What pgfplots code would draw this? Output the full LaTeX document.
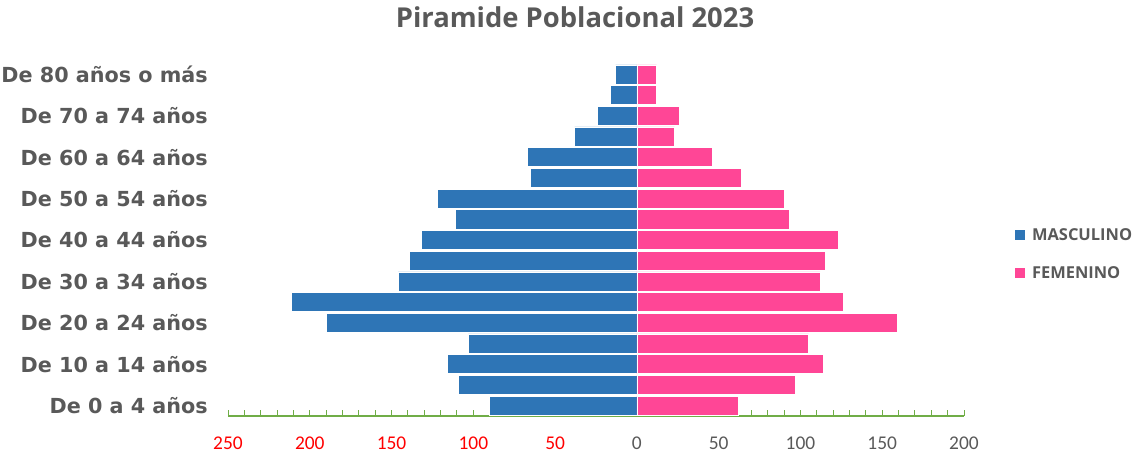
\documentclass[border=0pt]{standalone}
\usepackage{pgfplots}
\pgfplotsset{compat=1.18}
\usepackage{pgfplotstable}
\usepackage{fontspec}
\setmainfont{Carlito}
\newfontfamily\dejavu{DejaVu Sans}
\newfontfamily\opensans{Open Sans}
\definecolor{masc}{HTML}{2E75B6}
\definecolor{fem}{HTML}{FF4696}
\definecolor{txtgray}{HTML}{595959}
\definecolor{axgreen}{HTML}{70AD47}

\pgfplotstableread{
idx masc fem
0  -90  62
1  -109 97
2  -116 114
3  -103 105
4  -190 159
5  -211 126
6  -146 112
7  -139 115
8  -132 123
9  -111 93
10 -122 90
11 -65  64
12 -67  46
13 -38  23
14 -24  26
15 -16  12
16 -13  12
}\datatable

\begin{document}
\begin{tikzpicture}[x=1bp,y=1bp]
\useasboundingbox (0,0) rectangle (1138,456);
\node[font=\opensans\bfseries\fontsize{27.5}{31}\selectfont, text=txtgray] at (575,439) {Piramide Poblacional 2023};
\begin{axis}[
  at={(228bp,40bp)}, anchor=south west,
  scale only axis, width=736bp, height=352bp,
  xmin=-250, xmax=200, ymin=-0.5, ymax=16.5,
  xbar, bar width=0.92,
  axis x line*=bottom, axis y line*=left,
  x axis line style={axgreen, line width=1.2bp},
  y axis line style={draw=none},
  xtick={-250,-200,...,200},
  xticklabels={{\color{red}250},{\color{red}200},{\color{red}150},{\color{red}100},{\color{red}50},0,50,100,150,200},
  minor x tick num=4,
  tick align=inside,
  major tick length=6bp, minor tick length=6bp,
  xtick style={axgreen, line width=1bp},
  minor tick style={axgreen, line width=1bp},
  ytick={0,2,...,16},
  yticklabels={De 0 a 4 años, De 10 a 14 años, De 20 a 24 años, De 30 a 34 años, De 40 a 44 años, De 50 a 54 años, De 60 a 64 años, De 70 a 74 años, De 80 años o más},
  ytick style={draw=none},
  xticklabel style={font=\fontsize{19.5}{22}\selectfont, text=txtgray, anchor=center, yshift=-27bp},
  yticklabel style={font=\dejavu\bfseries\fontsize{20.8}{24}\selectfont, text=txtgray, anchor=east, inner sep=0pt, xshift=-20bp},
  legend style={at={(1.067,0.46)}, anchor=west, draw=none, fill=none, inner sep=0pt, row sep=21bp, column sep=5bp,
    font=\opensans\bfseries\fontsize{16.5}{19}\selectfont, text=txtgray},
  legend cell align=left,
  legend image code/.code={\fill[#1] (0bp,-5.5bp) rectangle (11bp,5.5bp);},
  clip=false,
]
\addplot[fill=masc, draw=white, line width=0.6bp, bar shift=0pt] table[x=masc, y=idx] {\datatable};
\addlegendentry{MASCULINO}
\addplot[fill=fem, draw=white, line width=0.6bp, bar shift=0pt] table[x=fem, y=idx] {\datatable};
\addlegendentry{FEMENINO}
\end{axis}
\end{tikzpicture}
\end{document}
